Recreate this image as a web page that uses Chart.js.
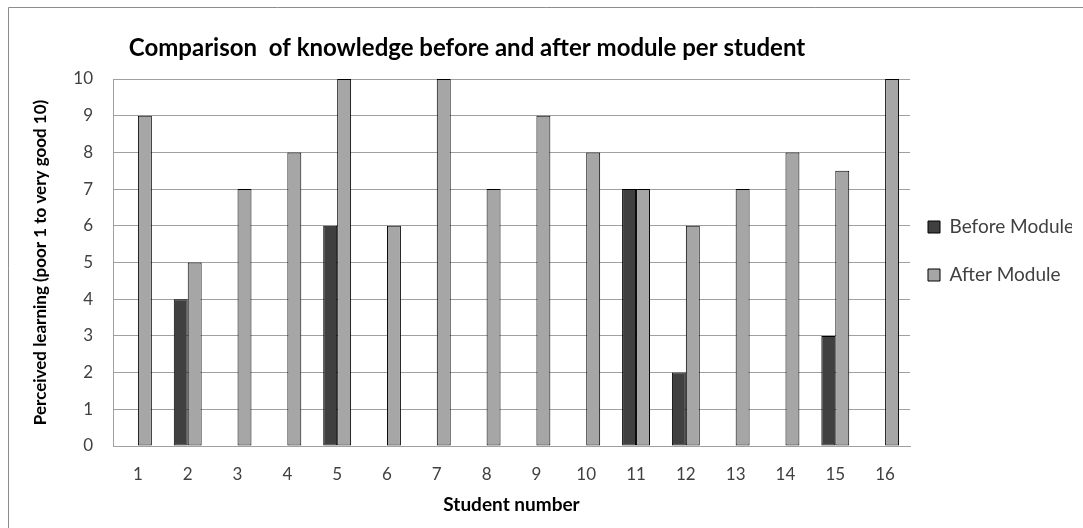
<!DOCTYPE html>
<html>
<head>
<meta charset="utf-8">
<title>Comparison of knowledge before and after module per student</title>
<script src="https://cdn.jsdelivr.net/npm/chart.js@4.4.1/dist/chart.umd.min.js"></script>
<style>
  html, body { margin: 0; padding: 0; background: #ffffff; }
  canvas { display: block; }
</style>
</head>
<body>
<canvas id="chart" width="1083" height="528"></canvas>
<script>
// Chart data
const students = ['1', '2', '3', '4', '5', '6', '7', '8', '9', '10', '11', '12', '13', '14', '15', '16'];
const beforeModule = [0, 4, 0, 0, 6, 0, 0, 0, 0, 0, 7, 2, 0, 0, 3, 0];
const afterModule = [9, 5, 7, 8, 10, 6, 10, 7, 9, 8, 7, 6, 7, 8, 7.5, 10];
const seriesNames = ['Before Module', 'After Module'];
const yMin = 0;
const yMax = 10;
const yStep = 1;

// Text
const chartTitle = 'Comparison  of knowledge before and after module per student';
const yTitle = 'Perceived learning (poor 1 to very good 10)';
const xTitle = 'Student number';

const FONT = 'Lato, "DejaVu Sans", sans-serif';
Chart.defaults.font.family = FONT;

// Thin frame along the top and left edge of the chart
const framePlugin = {
  id: 'frame',
  beforeDraw(chart) {
    const ctx = chart.ctx;
    ctx.save();
    ctx.strokeStyle = '#8c8c8c';
    ctx.lineWidth = 1;
    ctx.beginPath();
    ctx.moveTo(8.5, chart.height + 2);
    ctx.lineTo(8.5, 7.5);
    ctx.lineTo(chart.width + 2, 7.5);
    ctx.stroke();
    ctx.restore();
  }
};

// Chart heading, placed over the plot
const headingPlugin = {
  id: 'heading',
  afterDraw(chart) {
    const ctx = chart.ctx;
    ctx.save();
    ctx.font = 'bold 24px ' + FONT;
    ctx.fillStyle = '#000000';
    ctx.textAlign = 'center';
    ctx.textBaseline = 'alphabetic';
    ctx.fillText(chartTitle, 467, 56);
    ctx.restore();
  }
};

// Fixed-width legend column on the right, items placed beside the plot
const LEGEND_WIDTH = 173;
const LEGEND_FONT = 19;
const legendPlacement = {
  id: 'legendPlacement',
  afterInit(chart) {
    const lg = chart.legend;
    const fit = lg.fit;
    lg.fit = function () {
      fit.call(this);
      this.width = LEGEND_WIDTH;
    };
  },
  afterLayout(chart) {
    const lg = chart.legend;
    const pad = lg.options.labels.padding;
    const w = lg.width;
    const h = lg.height;
    lg.left = 928 - pad;
    lg.right = lg.left + w;
    lg.top = 227 - LEGEND_FONT / 2 - pad;
    lg.bottom = lg.top + h;
  }
};

new Chart(document.getElementById('chart'), {
  type: 'bar',
  data: {
    labels: students,
    datasets: [
      {
        label: seriesNames[0],
        data: beforeModule,
        backgroundColor: '#404040',
        borderColor: '#000000',
        borderWidth: 1,
        borderSkipped: false,
        categoryPercentage: 0.56,
        barPercentage: 1
      },
      {
        label: seriesNames[1],
        data: afterModule,
        backgroundColor: '#a6a6a6',
        borderColor: '#000000',
        borderWidth: 1,
        borderSkipped: false,
        categoryPercentage: 0.56,
        barPercentage: 1
      }
    ]
  },
  options: {
    responsive: false,
    animation: false,
    devicePixelRatio: 1,
    layout: { padding: { left: 20, top: 79, right: 0, bottom: 0 } },
    plugins: {
      title: { display: false },
      tooltip: { enabled: false },
      legend: {
        display: true,
        position: 'right',
        align: 'start',
        fullSize: false,
        labels: {
          boxWidth: 12,
          boxHeight: 12,
          padding: 48 - LEGEND_FONT,
          color: '#404040',
          font: { size: LEGEND_FONT }
        }
      }
    },
    scales: {
      x: {
        grid: { display: false, drawTicks: false },
        border: { display: true, color: '#a0a0a0', width: 1 },
        ticks: {
          color: '#404040',
          font: { size: 17 },
          padding: 18,
          maxRotation: 0,
          autoSkip: false
        },
        title: {
          display: true,
          text: xTitle,
          color: '#000000',
          font: { size: 19, weight: 'bold' },
          padding: { top: 0, bottom: 12 }
        },
        afterFit(scale) { scale.height = 82; }
      },
      y: {
        min: yMin,
        max: yMax,
        grid: { color: '#a0a0a0', lineWidth: 1, drawTicks: false },
        border: { display: true, color: '#a0a0a0', width: 1 },
        ticks: {
          stepSize: yStep,
          color: '#404040',
          font: { size: 17 },
          padding: 20
        },
        title: {
          display: true,
          text: yTitle,
          color: '#000000',
          font: { size: 17, weight: 'bold' },
          padding: { top: 10, bottom: 0 }
        },
        afterFit(scale) { scale.width = 93; }
      }
    }
  },
  plugins: [framePlugin, legendPlacement, headingPlugin]
});
</script>
</body>
</html>
